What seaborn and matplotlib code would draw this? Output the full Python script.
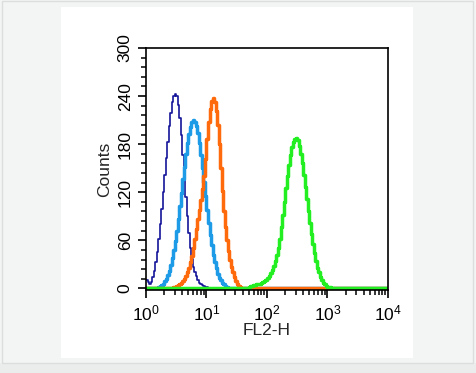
import numpy as np
import pandas as pd
import seaborn as sns
import matplotlib.pyplot as plt
from matplotlib.patches import Rectangle
from matplotlib.ticker import LogLocator, MultipleLocator

# histogram channels: 160 bins of 0.025 decade between 10^0 and 10^4
n_bins = 160
log_lo, log_hi = 0, 4

# counts per channel (start channel, counts)
dark_blue_start = 0
dark_blue = [11, 8, 5, 8, 14, 22, 33, 46, 62, 80, 99, 120, 141, 163, 183, 203,
             219, 232, 240, 243, 240, 229, 213, 191, 166, 140, 114, 90, 69,
             51, 37, 27, 20, 15, 10, 7, 5, 4, 3, 2, 2, 1]
light_blue_start = 8
light_blue = [2, 3, 4, 6, 9, 12, 17, 22, 29, 38, 48, 59, 72, 87, 103, 119,
              136, 152, 168, 182, 193, 202, 208, 210, 208, 203, 194, 181, 167,
              150, 133, 115, 98, 82, 67, 54, 42, 33, 25, 18, 13, 10, 7, 5, 3,
              2, 1]
orange_start = 18
orange = [2, 2, 3, 4, 5, 7, 9, 12, 15, 20, 26, 33, 41, 51, 62, 74, 86, 98,
          110, 124, 140, 162, 186, 208, 224, 234, 237, 233, 222, 204, 180,
          150, 122, 97, 76, 60, 47, 36, 27, 20, 14, 9, 6, 3, 2, 1]
green_start = 68
green = [2, 3, 3, 4, 4, 5, 5, 6, 7, 8, 9, 11, 13, 16, 19, 23, 28, 34, 42, 51,
         62, 76, 91, 108, 125, 140, 154, 166, 176, 183, 187, 188, 185, 178,
         168, 156, 142, 127, 112, 97, 82, 68, 55, 44, 34, 26, 20, 14, 10, 7,
         5, 3, 2, 2, 1, 1]

series = [('control', dark_blue_start, dark_blue, '#14149a', 1.2),
          ('isotype', light_blue_start, light_blue, '#1e9be6', 2.5),
          ('unstained', orange_start, orange, '#ff6a0c', 2.5),
          ('antibody', green_start, green, '#22ee22', 2.5)]

centers = 10 ** (log_lo + (np.arange(n_bins) + 0.5) * (log_hi - log_lo) / n_bins)

sns.set_style('ticks')
plt.rcParams['font.family'] = ['Liberation Sans', 'DejaVu Sans']
plt.rcParams['mathtext.fontset'] = 'custom'
plt.rcParams['mathtext.rm'] = 'Liberation Sans'

fig = plt.figure(figsize=(4.77, 3.73), dpi=100)
fig.patch.set_facecolor('#f3f5f4')
fig.patches.append(Rectangle((0, 0), 1, 10 / 373, transform=fig.transFigure,
                             facecolor='#ebeded', edgecolor='none', zorder=-3))
fig.patches.append(Rectangle((1.5 / 477, 10 / 373), 472 / 477, 362 / 373,
                             transform=fig.transFigure, facecolor='none',
                             edgecolor='#dcdedd', lw=1, zorder=-2))
fig.patches.append(Rectangle((61 / 477, 15 / 373), 352 / 477, 351 / 373,
                             transform=fig.transFigure, facecolor='white',
                             edgecolor='none', zorder=-1))

ax = fig.add_axes([146 / 477, 83 / 373, 242 / 477, 242 / 373])
ax.set_zorder(2)
ax.set_facecolor('white')

for name, start, counts, color, lw in series:
    full = np.zeros(n_bins)
    full[start:start + len(counts)] = counts
    df = pd.DataFrame({'x': centers, 'w': full})
    sns.histplot(data=df, x='x', weights='w', bins=n_bins, binrange=(log_lo, log_hi),
                 log_scale=True, element='step', fill=False, color=color,
                 linewidth=lw, ax=ax)

ax.set_xlim(1, 1e4)
ax.set_ylim(-2, 300)
ax.set_yticks([0, 60, 120, 180, 240, 300])
ax.yaxis.set_minor_locator(MultipleLocator(12))
ax.xaxis.set_major_locator(LogLocator(base=10, numticks=10))
ax.xaxis.set_minor_locator(LogLocator(base=10, subs=np.arange(2, 10), numticks=20))

for side in ['top', 'right', 'left', 'bottom']:
    ax.spines[side].set_visible(True)
    ax.spines[side].set_color('black')
    ax.spines[side].set_linewidth(1.2)

ax.tick_params(axis='both', which='major', direction='out', length=6, width=1.2,
               colors='black', labelsize=12.5)
ax.tick_params(axis='both', which='minor', direction='out', length=3.5, width=1.1,
               colors='black')
for lab in ax.get_yticklabels():
    lab.set_rotation(90)
    lab.set_va('center')

ax.set_xlabel('FL2-H', fontsize=12.5, labelpad=0)
ax.set_ylabel('Counts', fontsize=12.5, labelpad=4)

fig.savefig('out.png', dpi=100)
